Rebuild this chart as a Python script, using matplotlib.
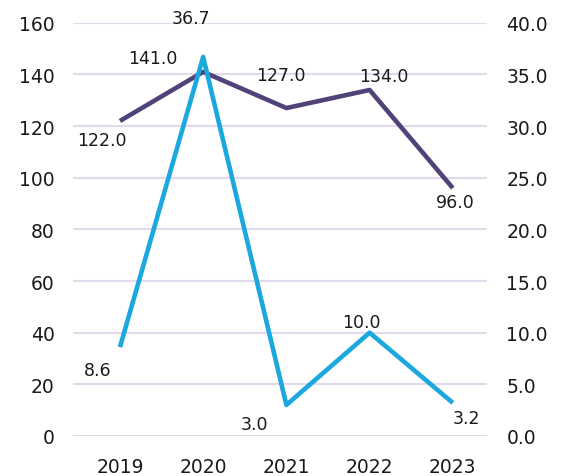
import numpy as np
import matplotlib.pyplot as plt

plt.rcParams['font.family'] = ['DejaVu Sans']

# дані
years = ['2019', '2020', '2021', '2022', '2023']
purple_vals = [122.0, 141.0, 127.0, 134.0, 96.0]   # ліва вісь
blue_vals = [8.6, 36.7, 3.0, 10.0, 3.2]            # права вісь

purple_col = '#51437a'
blue_col = '#1ba8de'
grid_col = '#e2d9ec'

# зміщення підписів (пікселі)
purple_off = [(-18, -19), (-50, 14), (-6, 33), (14, 14), (2, -14)]
blue_off = [(-22, -23), (-12, 39), (-32, -19), (-8, 11), (14, -15)]

fig = plt.figure(figsize=(5.61, 4.77), dpi=100)
ax = fig.add_axes([0.130, 0.084, 0.738, 0.866])
ax2 = ax.twinx()

x = np.arange(len(years))

ax.plot(x, purple_vals, color=purple_col, lw=3.3, solid_capstyle='butt', zorder=3)
ax2.plot(x, blue_vals, color=blue_col, lw=3.3, solid_capstyle='butt', zorder=3)

ax.set_ylim(0, 160)
ax2.set_ylim(0, 40)
ax.set_xlim(-0.565, 4.41)
ax.set_yticks(np.arange(0, 161, 20))
ax2.set_yticks(np.arange(0, 41, 5))
ax2.set_yticklabels([f'{v:.1f}' for v in np.arange(0, 41, 5)])
ax.set_xticks(x)
ax.set_xticklabels(years)

ax.grid(axis='y', color=grid_col, lw=1.5)
ax.set_axisbelow(True)
for a in (ax, ax2):
    for s in a.spines.values():
        s.set_visible(False)
    a.tick_params(length=0, labelsize=13.5, colors='#1a1a1a')
ax.tick_params(axis='y', pad=13)
ax.tick_params(axis='x', pad=15)
ax2.tick_params(axis='y', pad=14)

for i, v in enumerate(purple_vals):
    ax.annotate(f'{v:.1f}', (x[i], v), xytext=purple_off[i], textcoords='offset pixels',
                ha='center', va='center', fontsize=12.5, color='#1a1a1a')
for i, v in enumerate(blue_vals):
    ax2.annotate(f'{v:.1f}', (x[i], v), xytext=blue_off[i], textcoords='offset pixels',
                 ha='center', va='center', fontsize=12.5, color='#1a1a1a', annotation_clip=False)

fig.savefig('out.png', dpi=100)
